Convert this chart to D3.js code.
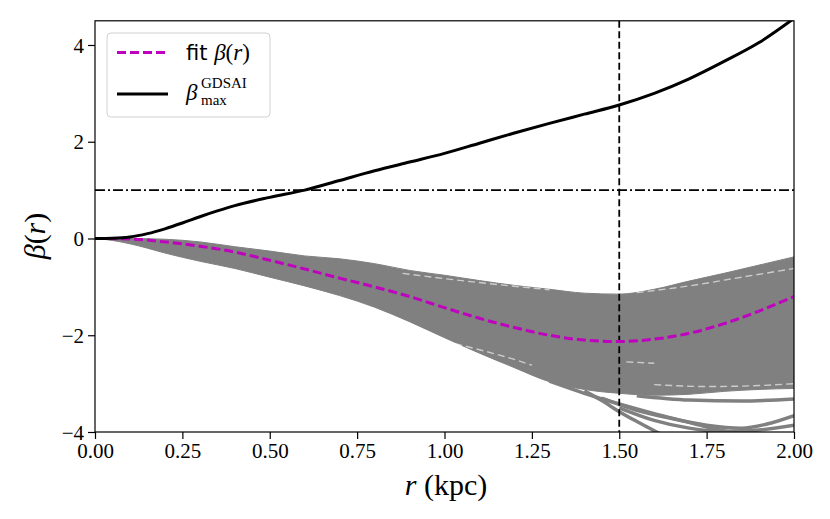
<!DOCTYPE html>
<html>
<head>
<meta charset="utf-8">
<script src="https://cdn.jsdelivr.net/npm/d3@7"></script>
<style>
  body { margin: 0; background: #fff; }
  svg { display: block; }
  .tick text { font-family: "Liberation Serif", serif; font-size: 21px; fill: #000; }
</style>
</head>
<body>
<div id="chart"></div>
<script>
const width = 830, height = 519,
    margin = ({ top: 20.8, right: 36, bottom: 87, left: 95 });

// tick values
const xTicks = [0, 0.25, 0.5, 0.75, 1.0, 1.25, 1.5, 1.75, 2.0];
const yTicks = [-4, -2, 0, 2, 4];

// beta_max GDSAI curve (r in kpc)
const maxR    = [0, 0.05, 0.1, 0.15, 0.2, 0.25, 0.3, 0.35, 0.4, 0.5, 0.6, 0.7, 0.8, 0.9, 1.0, 1.1, 1.2, 1.3, 1.4, 1.5, 1.6, 1.7, 1.8, 1.9, 2.0];
const maxBeta = [0, 0.005, 0.03, 0.1, 0.2, 0.32, 0.45, 0.57, 0.68, 0.85, 1.0, 1.2, 1.4, 1.58, 1.76, 1.97, 2.18, 2.38, 2.57, 2.76, 3.0, 3.3, 3.66, 4.05, 4.55];

// fitted beta(r)
const fitR    = [0, 0.1, 0.2, 0.3, 0.4, 0.5, 0.6, 0.7, 0.8, 0.9, 1.0, 1.1, 1.2, 1.3, 1.4, 1.5, 1.6, 1.7, 1.8, 1.9, 2.0];
const fitBeta = [0, -0.01, -0.07, -0.16, -0.28, -0.45, -0.63, -0.82, -1.0, -1.2, -1.43, -1.65, -1.84, -2.0, -2.1, -2.13, -2.08, -1.96, -1.76, -1.5, -1.2];

// envelope of the sampled beta(r) curves (gray band)
const bandR     = [0, 0.05, 0.1, 0.15, 0.2, 0.3, 0.4, 0.5, 0.6, 0.7, 0.8, 0.9, 1.0, 1.1, 1.2, 1.3, 1.4, 1.5, 1.6, 1.7, 1.8, 1.9, 2.0];
const bandUpper = [0, 0, 0, -0.005, -0.015, -0.07, -0.17, -0.26, -0.36, -0.42, -0.52, -0.66, -0.76, -0.87, -0.97, -1.05, -1.13, -1.15, -1.05, -0.88, -0.72, -0.55, -0.38];
const bandLower = [0, -0.04, -0.11, -0.2, -0.3, -0.47, -0.62, -0.8, -0.98, -1.18, -1.42, -1.72, -2.05, -2.37, -2.67, -2.96, -3.12, -3.2, -3.24, -3.22, -3.16, -3.12, -3.1];

// stray sample curves below the band
const strays = [
  [[1.30, -2.95], [1.40, -3.2], [1.50, -3.42], [1.60, -3.62], [1.70, -3.8], [1.78, -3.95], [1.85, -4.05]],
  [[1.40, -3.15], [1.45, -3.35], [1.50, -3.58], [1.56, -3.82], [1.62, -4.05]],
  [[1.45, -3.3], [1.55, -3.55], [1.65, -3.72], [1.75, -3.86], [1.85, -3.92], [1.92, -3.84], [2.0, -3.66]],
  [[1.50, -3.5], [1.60, -3.76], [1.70, -3.92], [1.80, -3.99], [1.90, -3.96], [2.0, -3.86]],
  [[1.55, -3.25], [1.70, -3.34], [1.85, -3.36], [2.0, -3.32]]
];

// light gaps between the sample curves inside the band
const gaps = [
  [[0.88, -0.72], [1.0, -0.83], [1.15, -0.95], [1.3, -1.06]],
  [[1.0, -2.12], [1.1, -2.3], [1.2, -2.5], [1.25, -2.62]],
  [[1.55, -1.12], [1.7, -0.98], [1.85, -0.8], [2.0, -0.62]],
  [[1.6, -3.02], [1.75, -3.06], [1.9, -3.04], [2.0, -3.0]],
  [[1.52, -2.55], [1.6, -2.58]]
];

const svg = d3.select("#chart")
    .append("svg")
    .attr("width", width)
    .attr("height", height);

let x = d3.scaleLinear()
    .domain([0, 2])
    .range([margin.left, width - margin.right]);

let y = d3.scaleLinear()
    .domain([-4, 4.5])
    .range([height - margin.bottom, margin.top]);

svg.append("clipPath")
    .attr("id", "plot-clip")
  .append("rect")
    .attr("x", x(0))
    .attr("y", y(4.5))
    .attr("width", x(2) - x(0))
    .attr("height", y(-4) - y(4.5));

const plot = svg.append("g").attr("clip-path", "url(#plot-clip)");

// gray band
const bandData = bandR.map((r, i) => ({ r, lo: bandLower[i], hi: bandUpper[i] }));
plot.append("path")
    .datum(bandData)
    .attr("fill", "#808080")
    .attr("stroke", "#808080")
    .attr("stroke-width", 1)
    .attr("d", d3.area()
        .x(d => x(d.r))
        .y0(d => y(d.lo))
        .y1(d => y(d.hi))
        .curve(d3.curveMonotoneX));

const ptLine = d3.line()
    .x(d => x(d[0]))
    .y(d => y(d[1]))
    .curve(d3.curveMonotoneX);

plot.append("g")
    .selectAll("path")
    .data(strays)
    .join("path")
    .attr("fill", "none")
    .attr("stroke", "#808080")
    .attr("stroke-width", 3.5)
    .attr("d", ptLine);

plot.append("g")
    .selectAll("path")
    .data(gaps)
    .join("path")
    .attr("fill", "none")
    .attr("stroke", "#fff")
    .attr("stroke-opacity", 0.6)
    .attr("stroke-width", 1.4)
    .attr("stroke-dasharray", "7,4")
    .attr("d", ptLine);

// reference lines
plot.append("line")
    .attr("x1", x(0)).attr("x2", x(2))
    .attr("y1", y(1)).attr("y2", y(1))
    .attr("stroke", "#000")
    .attr("stroke-width", 1.8)
    .attr("stroke-dasharray", "10,3,2,3");

plot.append("line")
    .attr("x1", x(1.5)).attr("x2", x(1.5))
    .attr("y1", y(4.5)).attr("y2", y(-4))
    .attr("stroke", "#000")
    .attr("stroke-width", 1.8)
    .attr("stroke-dasharray", "7,3.5");

// curves
let line = d3.line()
    .x(d => x(d.r))
    .y(d => y(d.b))
    .curve(d3.curveMonotoneX);

plot.append("path")
    .datum(fitR.map((r, i) => ({ r, b: fitBeta[i] })))
    .attr("fill", "none")
    .attr("stroke", "#bf00bf")
    .attr("stroke-width", 3)
    .attr("stroke-dasharray", "9,4")
    .attr("d", line);

plot.append("path")
    .datum(maxR.map((r, i) => ({ r, b: maxBeta[i] })))
    .attr("fill", "none")
    .attr("stroke", "#000")
    .attr("stroke-width", 3)
    .attr("d", line);

// axes
svg.append("g")
    .attr("transform", `translate(0,${y(-4)})`)
    .call(d3.axisBottom(x).tickValues(xTicks).tickFormat(d3.format(".2f")).tickSize(7).tickPadding(4))
    .call(g => g.select(".domain").remove())
    .call(g => g.selectAll(".tick line").attr("stroke-width", 1.2));

svg.append("g")
    .attr("transform", `translate(${x(0)},0)`)
    .call(d3.axisLeft(y).tickValues(yTicks).tickSize(7).tickPadding(4))
    .call(g => g.select(".domain").remove())
    .call(g => g.selectAll(".tick line").attr("stroke-width", 1.2))
    .call(g => g.selectAll(".tick text").attr("dy", "0.34em"));

svg.append("rect") // frame
    .attr("x", x(0))
    .attr("y", y(4.5))
    .attr("width", x(2) - x(0))
    .attr("height", y(-4) - y(4.5))
    .attr("fill", "none")
    .attr("stroke", "#000")
    .attr("stroke-width", 1.2);

// axis labels
const xl = svg.append("text")
    .attr("x", 446)
    .attr("y", 495)
    .attr("text-anchor", "middle")
    .attr("font-family", "Liberation Serif, serif")
    .attr("font-size", 30);
xl.append("tspan").attr("font-style", "italic").text("r");
xl.append("tspan").text(" (kpc)");

const yl = svg.append("text")
    .attr("transform", "translate(45,236) rotate(-90)")
    .attr("text-anchor", "middle")
    .attr("font-family", "Liberation Serif, serif")
    .attr("font-size", 30);
yl.append("tspan").attr("font-style", "italic").text("β");
yl.append("tspan").text("(");
yl.append("tspan").attr("font-style", "italic").text("r");
yl.append("tspan").text(")");

// legend
const lg = svg.append("g");
lg.append("rect")
    .attr("x", 107).attr("y", 33)
    .attr("width", 163).attr("height", 84)
    .attr("rx", 4)
    .attr("fill", "#fff")
    .attr("fill-opacity", 0.8)
    .attr("stroke", "#d0d0d0")
    .attr("stroke-width", 1);

lg.append("line")
    .attr("x1", 117).attr("x2", 168)
    .attr("y1", 52.5).attr("y2", 52.5)
    .attr("stroke", "#bf00bf")
    .attr("stroke-width", 3)
    .attr("stroke-dasharray", "9,4");

lg.append("line")
    .attr("x1", 117).attr("x2", 168)
    .attr("y1", 94).attr("y2", 94)
    .attr("stroke", "#000")
    .attr("stroke-width", 3);

const t1 = lg.append("text")
    .attr("x", 186).attr("y", 60)
    .attr("font-size", 21);
t1.append("tspan").attr("font-family", "DejaVu Sans, sans-serif").text("fit ");
t1.append("tspan").attr("font-family", "Liberation Serif, serif").attr("font-size", 23).attr("font-style", "italic").text("β");
t1.append("tspan").attr("font-family", "Liberation Serif, serif").attr("font-size", 23).text("(");
t1.append("tspan").attr("font-family", "Liberation Serif, serif").attr("font-size", 23).attr("font-style", "italic").text("r");
t1.append("tspan").attr("font-family", "Liberation Serif, serif").attr("font-size", 23).text(")");

// beta with superscript GDSAI and subscript max
lg.append("text")
    .attr("x", 186).attr("y", 100)
    .attr("font-family", "Liberation Serif, serif")
    .attr("font-style", "italic")
    .attr("font-size", 23)
    .text("β");
lg.append("text")
    .attr("x", 201).attr("y", 88)
    .attr("font-family", "Liberation Serif, serif")
    .attr("font-size", 15)
    .text("GDSAI");
lg.append("text")
    .attr("x", 201).attr("y", 105)
    .attr("font-family", "Liberation Serif, serif")
    .attr("font-size", 15)
    .text("max");
</script>
</body>
</html>
